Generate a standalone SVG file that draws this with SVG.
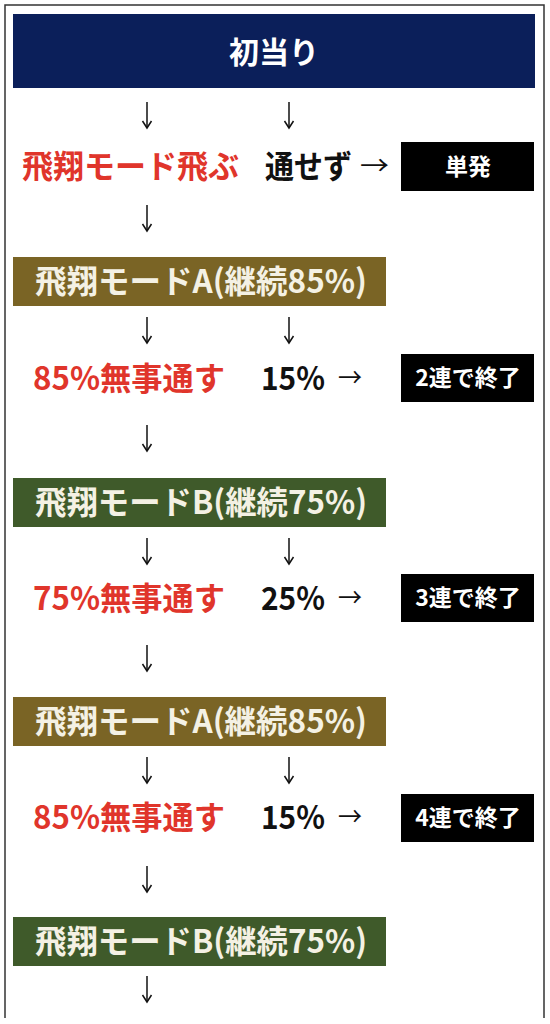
<svg xmlns="http://www.w3.org/2000/svg" width="550" height="1024" viewBox="0 0 550 1024">
<defs>
<marker id="ah" viewBox="-9 -6 11 12" markerWidth="11" markerHeight="12" refX="0" refY="0" orient="auto" markerUnits="userSpaceOnUse">
<path d="M-7,-4.5 L0,0 L-7,4.5" fill="none" stroke="#111" stroke-width="1.5"/>
</marker>
<style>
text{font-family:"Noto Sans CJK JP","Noto Sans",sans-serif;font-weight:bold}
.hdr{fill:#0b1f5a}
.modeA{fill:#7a6425}
.modeB{fill:#3f5a2a}
.endbox{fill:#000}
.lbl{fill:#f4f1e4;font-size:32px}
.red{fill:#e0352b;font-size:32px}
.blk{fill:#111;font-size:32px}
.arr{fill:#111;font-size:26px;font-weight:normal}
.wt{fill:#fff;font-size:23px;text-anchor:middle}
.conn line{stroke:#111;stroke-width:1.5;marker-end:url(#ah)}
</style>
</defs>
<rect width="550" height="1024" fill="#fff"/>
<path d="M5,1018 V5 H544 V1018" fill="none" stroke="#333" stroke-width="1.5"/>

<g id="start">
<rect class="hdr" x="13" y="14" width="522" height="74"/>
<text x="274" y="63" fill="#fff" font-size="30" text-anchor="middle">初当り</text>
</g>

<g id="row1">
<text class="red" x="22" y="178" textLength="217" lengthAdjust="spacingAndGlyphs">飛翔モード飛ぶ</text>
<text class="blk" x="265" y="178" textLength="87" lengthAdjust="spacingAndGlyphs">通せず</text>
<text class="arr" x="360" y="175" textLength="29" lengthAdjust="spacingAndGlyphs">→</text>
</g>
<g id="end1">
<rect class="endbox" x="401" y="142" width="133" height="49"/>
<text class="wt" x="468" y="175">単発</text>
</g>

<g id="modeA1">
<rect class="modeA" x="13" y="257" width="373" height="49"/>
<text class="lbl" x="35" y="293" textLength="332" lengthAdjust="spacingAndGlyphs">飛翔モードA(継続85%)</text>
</g>
<g id="row2">
<text class="red" x="33" y="390" textLength="192" lengthAdjust="spacingAndGlyphs">85%無事通す</text>
<text class="blk" x="261" y="390" textLength="64" lengthAdjust="spacingAndGlyphs">15%</text>
<text class="arr" x="338" y="387" textLength="24" lengthAdjust="spacingAndGlyphs">→</text>
</g>
<g id="end2">
<rect class="endbox" x="401" y="354" width="133" height="48"/>
<text class="wt" x="468" y="386">2連で終了</text>
</g>

<g id="modeB1">
<rect class="modeB" x="13" y="478" width="373" height="49"/>
<text class="lbl" x="35" y="514" textLength="332" lengthAdjust="spacingAndGlyphs">飛翔モードB(継続75%)</text>
</g>
<g id="row3">
<text class="red" x="33" y="610" textLength="192" lengthAdjust="spacingAndGlyphs">75%無事通す</text>
<text class="blk" x="261" y="610" textLength="64" lengthAdjust="spacingAndGlyphs">25%</text>
<text class="arr" x="338" y="607" textLength="24" lengthAdjust="spacingAndGlyphs">→</text>
</g>
<g id="end3">
<rect class="endbox" x="401" y="574" width="133" height="48"/>
<text class="wt" x="468" y="606">3連で終了</text>
</g>

<g id="modeA2">
<rect class="modeA" x="13" y="697" width="373" height="49"/>
<text class="lbl" x="35" y="733" textLength="332" lengthAdjust="spacingAndGlyphs">飛翔モードA(継続85%)</text>
</g>
<g id="row4">
<text class="red" x="33" y="829" textLength="192" lengthAdjust="spacingAndGlyphs">85%無事通す</text>
<text class="blk" x="261" y="829" textLength="64" lengthAdjust="spacingAndGlyphs">15%</text>
<text class="arr" x="338" y="826" textLength="24" lengthAdjust="spacingAndGlyphs">→</text>
</g>
<g id="end4">
<rect class="endbox" x="401" y="794" width="133" height="48"/>
<text class="wt" x="468" y="826">4連で終了</text>
</g>

<g id="modeB2">
<rect class="modeB" x="13" y="917" width="373" height="49"/>
<text class="lbl" x="35" y="953" textLength="332" lengthAdjust="spacingAndGlyphs">飛翔モードB(継続75%)</text>
</g>

<g id="connectors" class="conn">
<line x1="147" y1="102" x2="147" y2="128"/>
<line x1="289" y1="102" x2="289" y2="128"/>
<line x1="147" y1="205" x2="147" y2="231"/>
<line x1="147" y1="317" x2="147" y2="343"/>
<line x1="289" y1="317" x2="289" y2="343"/>
<line x1="147" y1="425" x2="147" y2="451"/>
<line x1="147" y1="538" x2="147" y2="564"/>
<line x1="289" y1="538" x2="289" y2="564"/>
<line x1="147" y1="645" x2="147" y2="671"/>
<line x1="147" y1="757" x2="147" y2="783"/>
<line x1="289" y1="757" x2="289" y2="783"/>
<line x1="147" y1="866" x2="147" y2="892"/>
<line x1="147" y1="976" x2="147" y2="1002"/>
</g>
</svg>
